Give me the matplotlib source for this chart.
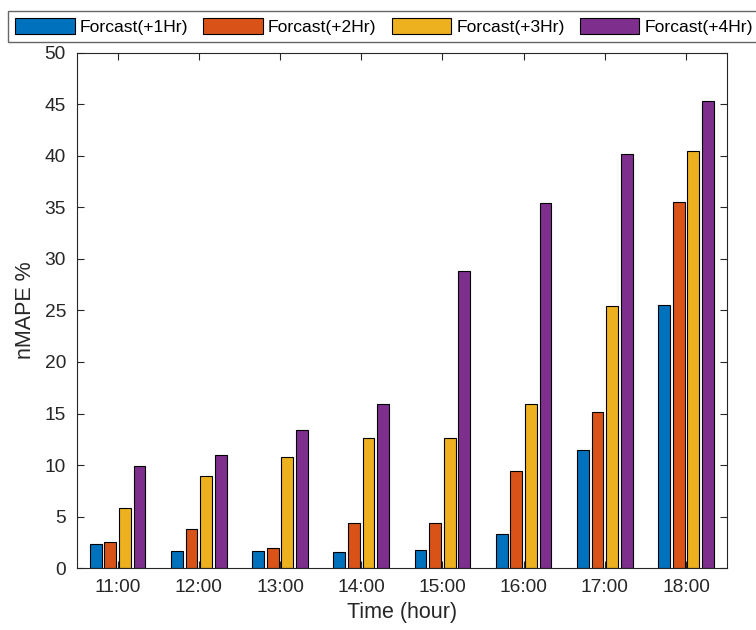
import matplotlib.pyplot as plt
import numpy as np

plt.rcParams['font.family'] = ['Liberation Sans', 'DejaVu Sans']

hours = ['11:00', '12:00', '13:00', '14:00', '15:00', '16:00', '17:00', '18:00']
labels = ['Forcast(+1Hr)', 'Forcast(+2Hr)', 'Forcast(+3Hr)', 'Forcast(+4Hr)']
h1 = [2.37, 1.62, 1.65, 1.56, 1.75, 3.3, 11.5, 25.5]
h2 = [2.5, 3.83, 1.98, 4.34, 4.4, 9.45, 15.1, 35.5]
h3 = [5.84, 8.92, 10.74, 12.66, 12.6, 15.9, 25.4, 40.45]
h4 = [9.9, 11.0, 13.43, 15.9, 28.85, 35.45, 40.15, 45.3]
colors = ['#0072BD', '#D95319', '#EDB120', '#7E2F8E']

fig = plt.figure(figsize=(7.56, 6.3), dpi=100)
ax = fig.add_axes([0.1019, 0.0984, 0.8592, 0.8175])

x = np.arange(1, len(hours) + 1)
w = 0.145
for i, (vals, c, lab) in enumerate(zip([h1, h2, h3, h4], colors, labels)):
    ax.bar(x + (i - 1.5) * 0.18, vals, w, color=c, edgecolor='black', lw=0.8, label=lab)

ax.set_xlim(0.5, 8.5)
ax.set_ylim(0, 50)
ax.set_xticks(x)
ax.set_xticklabels(hours)
ax.set_yticks(np.arange(0, 51, 5))
ax.tick_params(direction='in', length=5, width=0.8, top=True, right=True,
               labelsize=13.8, colors='0.15', pad=8)
for s in ax.spines.values():
    s.set_color('0.15')
    s.set_linewidth(0.8)

ax.set_xlabel('Time (hour)', fontsize=15.5, color='0.15', labelpad=4)
ax.set_ylabel('nMAPE %', fontsize=15.5, color='0.15', labelpad=6)

fig.legend(loc='upper left', bbox_to_anchor=(8 / 756, 1 - 11 / 630), ncol=4,
           fontsize=12.6, handlelength=3.4, handleheight=1.05, handletextpad=0.3,
           columnspacing=0.85, borderpad=0.4, borderaxespad=0, fancybox=False,
           framealpha=1, edgecolor='0.4')

fig.savefig('out.png', dpi=100)
